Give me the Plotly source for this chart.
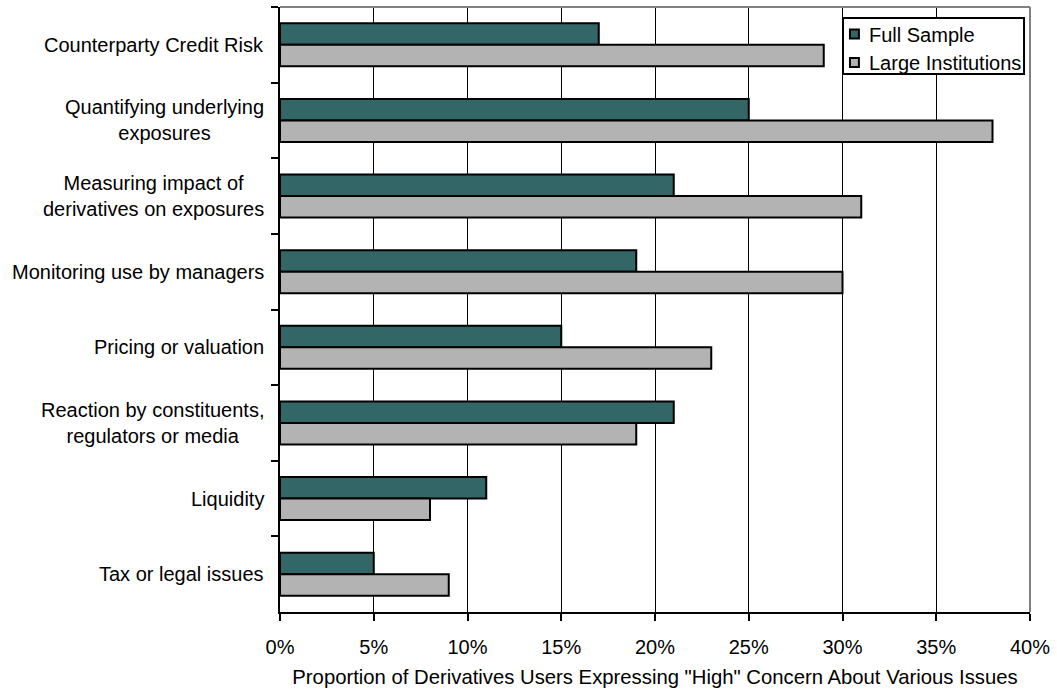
import plotly.graph_objects as go

categories = [
    "Counterparty Credit Risk",
    "Quantifying underlying<br>exposures",
    "Measuring impact of<br>derivatives on exposures",
    "Monitoring use by managers",
    "Pricing or valuation",
    "Reaction by constituents,<br>regulators or media",
    "Liquidity",
    "Tax or legal issues",
]
series_names = ["Full Sample", "Large Institutions"]
full_sample = [0.17, 0.25, 0.21, 0.19, 0.15, 0.21, 0.11, 0.05]
large_inst = [0.29, 0.38, 0.31, 0.30, 0.23, 0.19, 0.08, 0.09]
x_ticks = [0, 0.05, 0.10, 0.15, 0.20, 0.25, 0.30, 0.35, 0.40]
x_tick_labels = ["0%", "5%", "10%", "15%", "20%", "25%", "30%", "35%", "40%"]

FONT = "Liberation Sans, Arial, sans-serif"
FS = 20
COLORS = ["#336666", "#b3b3b3"]

W, H = 1057, 692
ML, MR, MT, MB = 280, 23, 7, 79
PW, PH = W - ML - MR, H - MT - MB

def px(x):
    return (x - ML) / PW

def py(y):
    return 1 - (y - MT) / PH

fig = go.Figure()
for name, vals, col in zip(series_names, [full_sample, large_inst], COLORS):
    fig.add_trace(go.Bar(
        y=categories, x=vals, orientation="h", name=name,
        marker=dict(color=col, line=dict(color="black", width=2)),
    ))

fig.update_layout(
    width=W, height=H,
    margin=dict(l=ML, r=MR, t=MT, b=MB),
    paper_bgcolor="white", plot_bgcolor="white",
    font=dict(family=FONT, size=FS, color="black"),
    barmode="group", bargap=0.43, bargroupgap=0,
    showlegend=False,
    xaxis=dict(
        range=[0, 0.40], tickvals=x_ticks, ticktext=x_tick_labels,
        showgrid=True, gridcolor="black", gridwidth=1,
        showline=True, linecolor="black", linewidth=2,
        ticks="outside", ticklen=7, tickwidth=2, tickcolor="black",
        ticklabelstandoff=9,
        zeroline=False,
        title=dict(text='Proportion of Derivatives Users Expressing "High" Concern About Various Issues',
                   font=dict(family=FONT, size=20.3), standoff=13),
        fixedrange=True,
    ),
    yaxis=dict(
        type="category", autorange="reversed",
        showticklabels=False,
        showline=True, linecolor="black", linewidth=2,
        ticks="outside", ticklen=7, tickwidth=2, tickcolor="black",
        tickson="boundaries", showgrid=False,
    ),
)

for cat in categories:
    fig.add_annotation(
        x=0, xref="paper", y=cat, yref="y",
        text=cat, showarrow=False, xanchor="right", yanchor="middle",
        align="center", xshift=-14,
        font=dict(family=FONT, size=FS, color="black"),
    )

# grey top and right border
fig.add_shape(type="line", xref="paper", yref="paper", x0=0, x1=1, y0=1, y1=1,
              line=dict(color="#808080", width=2))
fig.add_shape(type="line", xref="paper", yref="paper", x0=1, x1=1, y0=0, y1=1,
              line=dict(color="#808080", width=2))

# legend box
fig.add_shape(type="rect", xref="paper", yref="paper",
              x0=px(846), x1=px(1028), y0=py(74), y1=py(18),
              line=dict(color="black", width=2), fillcolor="white", layer="above")
for i, (name, col) in enumerate(zip(series_names, COLORS)):
    cy = 34 + i * 28.5
    fig.add_shape(type="rect", xref="paper", yref="paper",
                  x0=px(853), x1=px(862), y0=py(cy + 4.5), y1=py(cy - 4.5),
                  line=dict(color="black", width=2), fillcolor=col, layer="above")
    fig.add_annotation(
        x=px(870), xref="paper", y=py(cy + 1), yref="paper",
        text=name, showarrow=False, xanchor="left", yanchor="middle",
        font=dict(family=FONT, size=FS, color="black"),
    )

fig.write_html("out.html")
